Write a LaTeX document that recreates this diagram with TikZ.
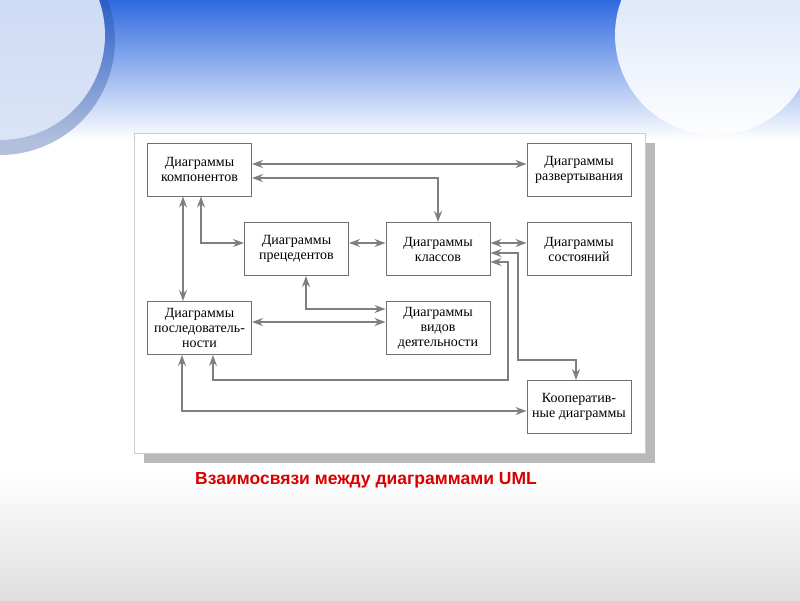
\documentclass[tikz,border=0pt]{standalone}
\usepackage{fontspec}
\setmainfont{Liberation Serif}
\newfontfamily\capfont{Liberation Sans}
\usetikzlibrary{arrows.meta}
\definecolor{ar}{HTML}{7F7F7F}
\definecolor{bx}{HTML}{707070}
\definecolor{sky}{HTML}{2F6AE0}
\tikzset{
 box/.style={draw=bx,line width=1pt,fill=white,minimum width=104pt,minimum height=53pt,align=center,font=\fontsize{14}{15}\selectfont,inner sep=1pt},
 con/.style={draw=ar,line width=1.3pt,{Stealth[length=11pt,width=8pt]}-{Stealth[length=11pt,width=8pt]}},
}
\begin{document}
\begin{tikzpicture}[x=1pt,y=-1pt]
\useasboundingbox (0,0) rectangle (800,600);
\shade[top color=sky,bottom color=white] (0,0) rectangle (800,140);
\shade[top color=white,bottom color=gray!25] (0,470) rectangle (800,600);
\fill[white,opacity=0.85] (715,35) circle (100);
\fill[sky!70!black,opacity=0.35] (0,40) circle (115);
\fill[white!85!sky,opacity=0.9] (0,35) circle (105);
% panel
\fill[gray!55] (144,143) rectangle (655,463);
\fill[white] (134,133) rectangle (645,453);
\draw[gray!40] (134,133) rectangle (645,453);
% boxes
\node[box] (comp) at (199.5,169.5) {Диаграммы\\компонентов};
\node[box] (dep) at (579,169.5) {Диаграммы\\развертывания};
\node[box] (uc) at (296.5,249) {Диаграммы\\прецедентов};
\node[box] (cls) at (438,249) {Диаграммы\\классов};
\node[box] (st) at (579,249) {Диаграммы\\состояний};
\node[box] (seq) at (199.5,328) {Диаграммы\\последователь-\\ности};
\node[box] (act) at (438,328) {Диаграммы\\видов\\деятельности};
\node[box] (coop) at (579,407) {Кооператив-\\ные диаграммы};
% connectors
\draw[con] (comp.east |- 0,164) -- (dep.west |- 0,164);
\draw[con] (comp.east |- 0,178) -| (cls.north);
\draw[con] (comp.south -| 183,0) -- (seq.north -| 183,0);
\draw[con] (comp.south -| 201,0) |- (uc.west |- 0,243);
\draw[con] (uc.east |- 0,243) -- (cls.west |- 0,243);
\draw[con] (cls.east |- 0,243) -- (st.west |- 0,243);
\draw[con] (cls.east |- 0,253) -- (518,253) -- (518,360) -| (coop.north -| 576,0);
\draw[con] (cls.east |- 0,262) -- (508,262) -- (508,380) -| (seq.south -| 213,0);
\draw[con] (uc.south -| 306,0) |- (act.west |- 0,309);
\draw[con] (seq.east |- 0,322) -- (act.west |- 0,322);
\draw[con] (seq.south -| 182,0) |- (coop.west |- 0,411);
\node[font=\capfont\bfseries\fontsize{17.5}{19}\selectfont,text=red!85!black] (cap) at (366,480) {Взаимосвязи между диаграммами UML};
\end{tikzpicture}
\end{document}
